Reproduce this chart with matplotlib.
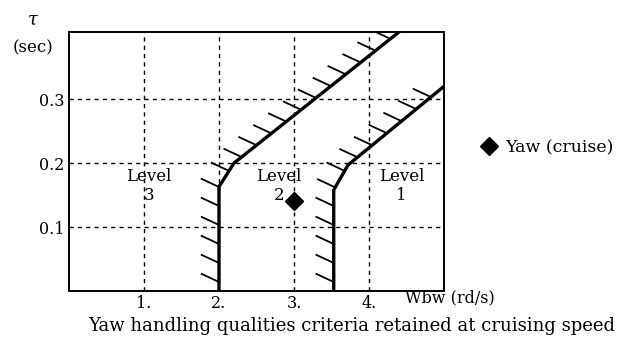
import numpy as np
import matplotlib
matplotlib.use("Agg")
import matplotlib.pyplot as plt

plt.rcParams["font.family"] = ["DejaVu Serif"]

# Wbw (rd/s) / tau (sec) criteria boundaries
wbw_ticks = [1, 2, 3, 4]
wbw_labels = ["1.", "2.", "3.", "4."]
tau_ticks = [0.1, 0.2, 0.3]
tau_labels = ["0.1", "0.2", "0.3"]

bound_32_w = [2.0, 2.0, 2.2, 4.4]
bound_32_tau = [0.0, 0.163, 0.2, 0.405]
bound_21_w = [3.53, 3.53, 3.72, 5.0]
bound_21_tau = [0.0, 0.158, 0.197, 0.32]

level_names = ["Level\n3", "Level\n2", "Level\n1"]
level_w = [1.07, 2.8, 4.43]
level_tau = [0.164, 0.164, 0.164]

yaw_cruise_w = [3.0]
yaw_cruise_tau = [0.14]

fig = plt.figure(figsize=(6.34, 3.46), dpi=100)
ax = fig.add_axes([0.1088, 0.159, 0.5915, 0.7485])
ax.set_xlim(0, 5)
ax.set_ylim(0, 0.405)

ax.set_xticks(wbw_ticks)
ax.set_xticklabels(wbw_labels)
ax.set_yticks(tau_ticks)
ax.set_yticklabels(tau_labels)
ax.tick_params(length=0, labelsize=11.5, pad=3)
ax.grid(True, color="black", linestyle=(0, (3, 3)), linewidth=1.0)
for s in ax.spines.values():
    s.set_linewidth(1.4)


def hatch_ticks(ws, taus, spacing=19.0, length=20.0, angle=155.0, start=9.0):
    # short ticks on the upper-left side of a boundary, laid out in pixels
    pts = ax.transData.transform(np.column_stack([ws, taus]))
    seg = np.diff(pts, axis=0)
    seg_len = np.hypot(seg[:, 0], seg[:, 1])
    cum = np.concatenate([[0], np.cumsum(seg_len)])
    d = np.array([np.cos(np.radians(angle)), np.sin(np.radians(angle))]) * length
    for s in np.arange(start, cum[-1], spacing):
        i = min(np.searchsorted(cum, s, side="right") - 1, len(seg) - 1)
        t = (s - cum[i]) / seg_len[i]
        base = pts[i] + t * seg[i]
        tip = base + d
        xy = ax.transData.inverted().transform(np.array([base, tip]))
        ax.plot(xy[:, 0], xy[:, 1], color="black", lw=1.3, solid_capstyle="butt")


for ws, taus in [(bound_32_w, bound_32_tau), (bound_21_w, bound_21_tau)]:
    ax.plot(ws, taus, color="black", lw=2.4, solid_joinstyle="miter")
    hatch_ticks(ws, taus)

for name, w, t in zip(level_names, level_w, level_tau):
    ax.text(w, t, name, ha="center", va="center", fontsize=12, linespacing=1.1)

ax.plot(yaw_cruise_w, yaw_cruise_tau, linestyle="none", marker="D",
        markersize=9.5, color="black", label="Yaw (cruise)", clip_on=False)

fig.legend(loc="center left", bbox_to_anchor=(481 / 634, 1 - 148 / 346),
           frameon=False, fontsize=12.5, handlelength=0.9, handletextpad=0.5,
           borderpad=0, borderaxespad=0)

fig.text(33 / 634, 1 - 20 / 346, "τ", ha="center", va="center", fontsize=13,
         style="italic")
fig.text(33 / 634, 1 - 48 / 346, "(sec)", ha="center", va="center", fontsize=12)
fig.text(450 / 634, 1 - 298 / 346, "Wbw (rd/s)", ha="center", va="center",
         fontsize=11.5)
fig.text(352 / 634, 1 - 326 / 346,
         "Yaw handling qualities criteria retained at cruising speed",
         ha="center", va="center", fontsize=13)

fig.savefig("out.png", dpi=100)
